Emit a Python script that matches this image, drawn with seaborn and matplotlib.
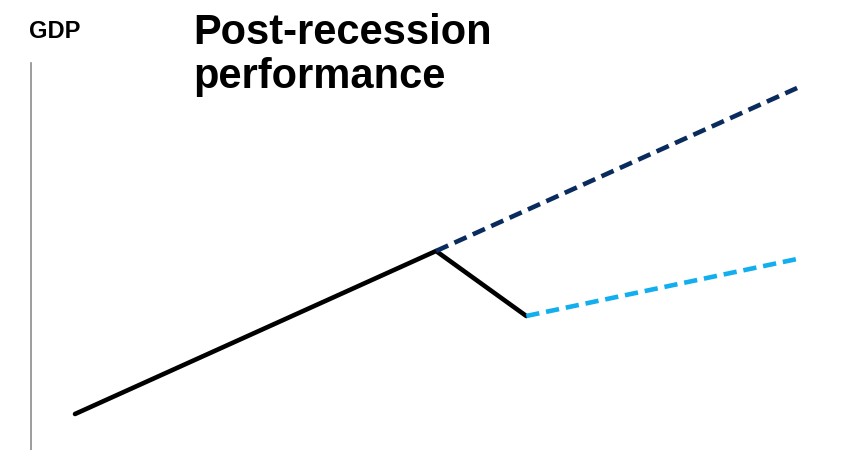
import matplotlib
matplotlib.use("Agg")
import matplotlib.pyplot as plt
import seaborn as sns
import pandas as pd

# GDP index
years_actual = [0, 4, 5]
gdp_actual = [100.0, 116.3, 109.8]
years_trend = [4, 8]
gdp_trend = [116.3, 132.6]
years_recovery = [5, 8]
gdp_recovery = [109.8, 115.5]

sns.set_theme(style="white")
plt.rcParams["font.family"] = ["Liberation Sans", "DejaVu Sans"]

fig = plt.figure(figsize=(8.44, 4.5), dpi=100)
ax = fig.add_axes([31.5 / 844, 0, 812.5 / 844, 387 / 450])

actual = pd.DataFrame({"year": years_actual, "gdp": gdp_actual})
trend = pd.DataFrame({"year": years_trend, "gdp": gdp_trend})
recovery = pd.DataFrame({"year": years_recovery, "gdp": gdp_recovery})

sns.lineplot(data=actual, x="year", y="gdp", color="black", linewidth=3.3, ax=ax)
sns.lineplot(data=trend, x="year", y="gdp", color="#0a2b5e", linewidth=3.3,
             linestyle=(0, (2.9, 1.5)), ax=ax)
sns.lineplot(data=recovery, x="year", y="gdp", color="#12aeee", linewidth=3.3,
             linestyle=(0, (2.9, 1.5)), ax=ax)

ax.set_xlim(-0.482, 8.52)
ax.set_ylim(96.4, 135.1)
ax.set_xticks([])
ax.set_yticks([])
ax.set_xlabel("")
ax.set_ylabel("")
for side in ["top", "right", "bottom"]:
    ax.spines[side].set_visible(False)
ax.spines["left"].set_color("#8c8c8c")
ax.spines["left"].set_linewidth(1.2)

fig.text(55 / 844, 1 - 31 / 450, "GDP", fontsize=17, fontweight="bold",
         color="black", ha="center", va="center")
fig.text(193 / 844, 1 - 88 / 450, "Post-recession\nperformance", fontsize=30,
         fontweight="bold", color="black", ha="left", va="baseline",
         linespacing=1.12)

fig.savefig("out.png", dpi=100, facecolor="white")
